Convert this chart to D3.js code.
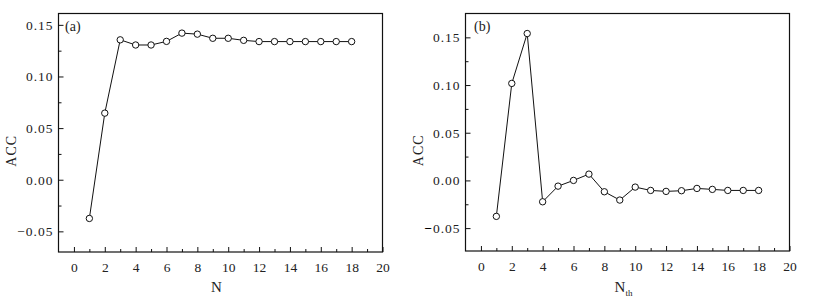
<!DOCTYPE html>
<html>
<head>
<meta charset="utf-8">
<script src="https://cdn.jsdelivr.net/npm/d3@7"></script>
<style>
body { margin: 0; background: #fff; }
svg text { font-family: "Liberation Serif", "DejaVu Serif", serif; fill: #222; }
</style>
</head>
<body>
<svg id="chart" width="840" height="299"></svg>
<script>
// N values shared by both panels
var nValues = [1, 2, 3, 4, 5, 6, 7, 8, 9, 10, 11, 12, 13, 14, 15, 16, 17, 18];
// panel (a): ACC vs N
var accA = [-0.0375, 0.0645, 0.1355, 0.1305, 0.1305, 0.1340, 0.1420, 0.1410, 0.1370, 0.1370, 0.1350, 0.1338, 0.1338, 0.1338, 0.1338, 0.1338, 0.1338, 0.1338];
// panel (b): ACC vs N_th
var accB = [-0.0377, 0.1017, 0.1540, -0.0224, -0.0060, 0.0000, 0.0066, -0.0119, -0.0206, -0.0070, -0.0105, -0.0115, -0.0108, -0.0084, -0.0094, -0.0105, -0.0105, -0.0105];
var xTicks = [0, 2, 4, 6, 8, 10, 12, 14, 16, 18, 20];
var yTicks = [-0.05, 0.00, 0.05, 0.10, 0.15];

var svg = d3.select("#chart");

var panels = [
  {left: 58.5, top: 13.5, right: 382.5, bottom: 252, yDom: [-0.070, 0.161], data: accA, tag: "(a)", xlab: "N", sub: "", ylabX: 16, tagX: 65},
  {left: 465.5, top: 13.5, right: 789.5, bottom: 251, yDom: [-0.074, 0.175], data: accB, tag: "(b)", xlab: "N", sub: "th", ylabX: 423, tagX: 474}
];

panels.forEach(function(p, pi) {
  var x = d3.scaleLinear().domain([-1, 20]).range([p.left, p.right]);
  var y = d3.scaleLinear().domain(p.yDom).range([p.bottom, p.top]);
  var g = svg.append("g");

  // frame
  g.append("rect")
    .attr("x", p.left).attr("y", p.top)
    .attr("width", p.right - p.left).attr("height", p.bottom - p.top)
    .attr("fill", "none").attr("stroke", "#111").attr("stroke-width", 1.2);

  // x axis, ticks pointing in
  var xAxis = d3.axisBottom(x).tickValues(xTicks).tickSizeInner(-5).tickSizeOuter(0).tickPadding(10)
    .tickFormat(d3.format("d"));
  var gx = g.append("g").attr("transform", "translate(0," + p.bottom + ")").call(xAxis);
  gx.select(".domain").remove();
  gx.selectAll("line").attr("stroke", "#111");
  gx.selectAll("text").attr("font-size", 13.5).attr("dy", "0.71em");
  var xMinor = d3.axisBottom(x).tickValues(d3.range(1, 20, 2))
    .tickSizeInner(-3).tickSizeOuter(0).tickFormat("");
  var gxm = g.append("g").attr("transform", "translate(0," + p.bottom + ")").call(xMinor);
  gxm.select(".domain").remove();
  gxm.selectAll("line").attr("stroke", "#111");

  // y axis, ticks pointing in
  var yAxis = d3.axisLeft(y).tickValues(yTicks).tickSizeInner(-5).tickSizeOuter(0).tickPadding(5)
    .tickFormat(function(d) { return d3.format(".2f")(d).replace("-", "\u2212"); });
  var gy = g.append("g").attr("transform", "translate(" + p.left + ",0)").call(yAxis);
  gy.select(".domain").remove();
  gy.selectAll("line").attr("stroke", "#111");
  gy.selectAll("text").attr("font-size", 13.5).attr("letter-spacing", "1px");
  // the minus on panel (b) is printed heavier
  if (pi === 1) {
    gy.selectAll("text").filter(function(d) { return d < 0; })
      .text(null)
      .call(function(t) {
        t.append("tspan").attr("font-weight", "bold").attr("fill", "#000").text("\u2212");
        t.append("tspan").text(function(d) { return d3.format(".2f")(-d); });
      });
  }
  var yMinor = d3.axisLeft(y).tickValues([-0.075, -0.025, 0.025, 0.075, 0.125, 0.175].filter(function(v){ return v > p.yDom[0] && v < p.yDom[1]; }))
    .tickSizeInner(-3).tickSizeOuter(0).tickFormat("");
  var gym = g.append("g").attr("transform", "translate(" + p.left + ",0)").call(yMinor);
  gym.select(".domain").remove();
  gym.selectAll("line").attr("stroke", "#111");

  // line
  var line = d3.line().x(function(d, i) { return x(nValues[i]); }).y(function(d) { return y(d); });
  g.append("path").datum(p.data)
    .attr("d", line).attr("fill", "none").attr("stroke", "#111").attr("stroke-width", 1);

  // open circle markers
  g.selectAll("circle.pt").data(p.data).enter().append("circle")
    .attr("class", "pt")
    .attr("cx", function(d, i) { return x(nValues[i]); })
    .attr("cy", function(d) { return y(d); })
    .attr("r", 3.2)
    .attr("fill", "#fff").attr("stroke", "#111").attr("stroke-width", 1);

  // panel tag
  g.append("text").attr("x", p.tagX).attr("y", 31).attr("font-size", 14).text(p.tag);

  // axis titles
  var xt = g.append("text").attr("x", (p.left + p.right) / 2 - 4).attr("y", 292)
    .attr("text-anchor", "middle").attr("font-size", 15).text(p.xlab);
  if (p.sub) {
    xt.append("tspan").attr("font-size", 9).attr("dy", 4).text(p.sub);
  }
  g.append("text")
    .attr("transform", "translate(" + p.ylabX + "," + ((p.top + p.bottom) / 2 + 18) + ") rotate(-90)")
    .attr("text-anchor", "middle").attr("font-size", 14).attr("letter-spacing", "1px").text("ACC");
});
</script>
</body>
</html>
